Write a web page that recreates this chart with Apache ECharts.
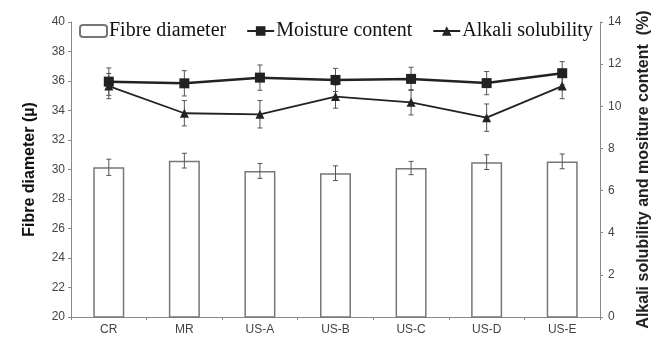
<!DOCTYPE html>
<html>
<head>
<meta charset="utf-8">
<script src="https://cdn.jsdelivr.net/npm/echarts@6/dist/echarts.min.js"></script>
<style>
html,body{margin:0;padding:0;background:#fff;}
#c{width:656px;height:340px;}
</style>
</head>
<body>
<div id="c"></div>
<script>
const categories = ['CR', 'MR', 'US-A', 'US-B', 'US-C', 'US-D', 'US-E'];
const fibreDiameter = [30.15, 30.6, 29.9, 29.75, 30.1, 30.5, 30.55];
const fibreErr = [0.55, 0.5, 0.5, 0.5, 0.45, 0.5, 0.5];
const moistureContent = [11.17, 11.09, 11.36, 11.25, 11.3, 11.1, 11.57];
const moistureErr = [0.65, 0.6, 0.6, 0.55, 0.55, 0.55, 0.55];
const alkaliSolubility = [10.96, 9.67, 9.62, 10.46, 10.19, 9.46, 10.96];
const alkaliErr = [0.6, 0.6, 0.65, 0.55, 0.6, 0.65, 0.6];
const leftTicks = [20, 40, 2];
const rightTicks = [0, 14, 2];

function errData(vals, errs) {
  return vals.map((v, i) => [i, v - errs[i], v + errs[i]]);
}
function errRender(params, api) {
  const lo = api.coord([api.value(0), api.value(1)]);
  const hi = api.coord([api.value(0), api.value(2)]);
  const x = lo[0], cap = 2.5;
  const style = { stroke: '#555', lineWidth: 1 };
  return {
    type: 'group',
    children: [
      { type: 'line', shape: { x1: x, y1: lo[1], x2: x, y2: hi[1] }, style },
      { type: 'line', shape: { x1: x - cap, y1: lo[1], x2: x + cap, y2: lo[1] }, style },
      { type: 'line', shape: { x1: x - cap, y1: hi[1], x2: x + cap, y2: hi[1] }, style }
    ]
  };
}

const axisLabelStyle = { color: '#444', fontFamily: 'Liberation Sans, Arial', fontSize: 12 };
const chart = echarts.init(document.getElementById('c'), null, { renderer: 'canvas' });
chart.setOption({
  animation: false,
  backgroundColor: '#fff',
  grid: { left: 71, right: 56, top: 22, bottom: 23, containLabel: false, outerBoundsMode: 'none' },
  legend: {
    left: 74, top: 16, itemGap: 20, itemWidth: 27, itemHeight: 12,
    textStyle: { fontFamily: 'Liberation Serif, Times New Roman, serif', fontSize: 20, color: '#111', padding: [0, 0, 0, -3] },
    data: ['Fibre diameter', 'Moisture content', 'Alkali solubility']
  },
  xAxis: {
    type: 'category', data: categories,
    axisLine: { lineStyle: { color: '#888', width: 1 } },
    axisTick: { show: true, length: 3, lineStyle: { color: '#888' } },
    axisLabel: Object.assign({ margin: 7, fontSize: 13 }, axisLabelStyle)
  },
  yAxis: [
    {
      type: 'value', min: leftTicks[0], max: leftTicks[1], interval: leftTicks[2],
      splitLine: { show: false },
      axisLine: { show: true, lineStyle: { color: '#888' } },
      axisTick: { show: true, length: 3, lineStyle: { color: '#888' } },
      axisLabel: Object.assign({ margin: 6 }, axisLabelStyle),
      name: 'Fibre diameter (µ)', nameLocation: 'middle', nameGap: 33, nameRotate: 90,
      nameTextStyle: { fontFamily: 'Liberation Sans, Arial', fontWeight: 'bold', fontSize: 16, color: '#111' }
    },
    {
      type: 'value', min: rightTicks[0], max: rightTicks[1], interval: rightTicks[2],
      position: 'right',
      splitLine: { show: false },
      axisLine: { show: true, lineStyle: { color: '#888' } },
      axisTick: { show: true, length: 3, lineStyle: { color: '#888' } },
      axisLabel: Object.assign({ margin: 8 }, axisLabelStyle),
      name: 'Alkali solubility and mositure content  (%)', nameLocation: 'middle', nameGap: 36, nameRotate: 90,
      nameTextStyle: { fontFamily: 'Liberation Sans, Arial', fontWeight: 'bold', fontSize: 16, color: '#222' }
    }
  ],
  series: [
    {
      name: 'Fibre diameter', type: 'bar', yAxisIndex: 0, data: fibreDiameter,
      barWidth: 31, clip: true,
      itemStyle: { color: '#fff', borderColor: '#777', borderWidth: 1.5 },
      z: 2
    },
    {
      name: 'fibreErr', type: 'custom', yAxisIndex: 0, data: errData(fibreDiameter, fibreErr),
      renderItem: errRender, z: 3, encode: { x: 0, y: [1, 2] }
    },
    {
      name: 'Moisture content', type: 'line', yAxisIndex: 1, data: moistureContent,
      symbol: 'rect', symbolSize: 10,
      lineStyle: { color: '#222', width: 2.5 },
      itemStyle: { color: '#222' }, z: 5
    },
    {
      name: 'mErr', type: 'custom', yAxisIndex: 1, data: errData(moistureContent, moistureErr),
      renderItem: errRender, z: 4, encode: { x: 0, y: [1, 2] }
    },
    {
      name: 'Alkali solubility', type: 'line', yAxisIndex: 1, data: alkaliSolubility,
      symbol: 'triangle', symbolSize: 9,
      lineStyle: { color: '#222', width: 1.8 },
      itemStyle: { color: '#222' }, z: 5
    },
    {
      name: 'aErr', type: 'custom', yAxisIndex: 1, data: errData(alkaliSolubility, alkaliErr),
      renderItem: errRender, z: 4, encode: { x: 0, y: [1, 2] }
    }
  ]
});
</script>
</body>
</html>
